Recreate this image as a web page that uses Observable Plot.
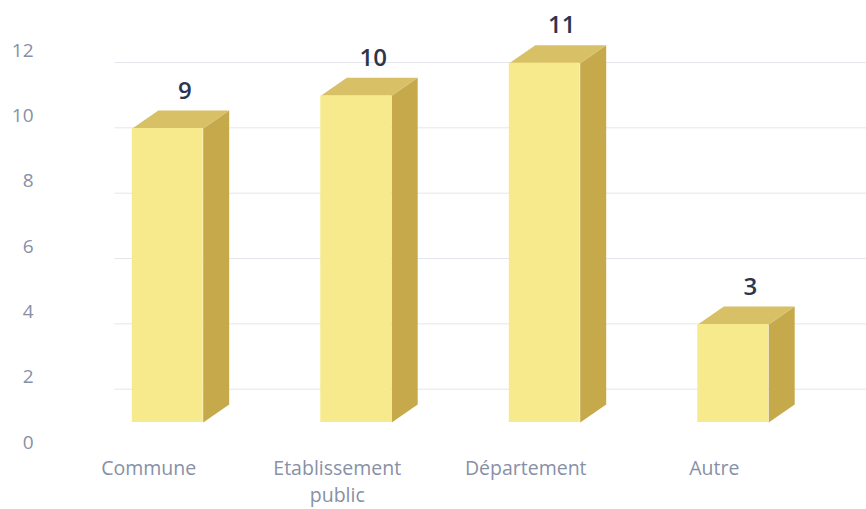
<!DOCTYPE html>
<html>
<head>
<meta charset="utf-8">
<script src="https://cdn.jsdelivr.net/npm/d3@7"></script>
<script src="https://cdn.jsdelivr.net/npm/@observablehq/plot@0.6"></script>
<style>
  body { margin: 0; background: #ffffff; }
  #chart { width: 866px; height: 509px; }
</style>
</head>
<body>
<div id="chart"></div>
<script>
// ---- data ----
const categories = ["Commune", "Etablissement public", "Département", "Autre"];
const values = [9, 10, 11, 3];
const xTickLabels = ["Commune", "Etablissement\npublic", "Département", "Autre"];
const yTicks = [0, 2, 4, 6, 8, 10, 12];

// ---- table built from the arrays ----
const data = categories.map((c, i) => ({ i, category: c, value: values[i] }));

// 3D geometry (in scale units)
const hw = 0.188;     // half width of front face
const depthX = 0.138; // depth shift to the right
const depthY = 0.55;  // depth shift upward
const lift = -20;     // front face sits slightly in front of the floor

const frontColor = "#f7ea8c";
const topColor = "#d8c066";
const sideColor = "#c5a94b";

const topFaces = data.flatMap(d => [
  { id: d.i, px: d.i - hw, py: d.value },
  { id: d.i, px: d.i + hw, py: d.value },
  { id: d.i, px: d.i + hw + depthX, py: d.value + depthY },
  { id: d.i, px: d.i - hw + depthX, py: d.value + depthY }
]);
const sideFaces = data.flatMap(d => [
  { id: d.i, px: d.i + hw, py: 0 },
  { id: d.i, px: d.i + hw + depthX, py: depthY },
  { id: d.i, px: d.i + hw + depthX, py: d.value + depthY },
  { id: d.i, px: d.i + hw, py: d.value }
]);

const chart = Plot.plot({
  width: 866,
  height: 509,
  marginLeft: 73,
  marginRight: 39,
  marginTop: 50,
  marginBottom: 67,
  style: { fontFamily: "'Open Sans', sans-serif", color: "#8790a6", background: "#ffffff" },
  x: { type: "linear", domain: [-0.5, 3.5] },
  y: { domain: [0, 12] },
  marks: [
    Plot.ruleY(yTicks.filter(t => t > 0), { x1: -0.28, x2: 3.71, dy: 12, stroke: "#e3e6eb", strokeWidth: 1 }),
    Plot.axisY({ ticks: yTicks, tickSize: 0, tickPadding: 40, fontSize: 19, fill: "#8790a6", label: null }),
    Plot.axisX({ ticks: [0, 1, 2, 3], tickFormat: i => xTickLabels[i], tickSize: 0, tickPadding: 14, dx: -19, fontSize: 19.5, lineHeight: 1.35, fill: "#8790a6", label: null }),
    Plot.line(sideFaces, { x: "px", y: "py", z: "id", fill: sideColor, stroke: "none", dy: lift }),
    Plot.line(topFaces, { x: "px", y: "py", z: "id", fill: topColor, stroke: "none", dy: lift }),
    Plot.rect(data, { x1: d => d.i - hw, x2: d => d.i + hw, y1: 0, y2: "value", fill: frontColor, dy: lift }),
    Plot.text(data, { x: "i", y: "value", text: d => String(d.value), dx: 17, dy: lift - 30, lineAnchor: "bottom", fontSize: 24, fontWeight: 600, fill: "#2b3550" })
  ]
});
document.getElementById("chart").appendChild(chart);
</script>
</body>
</html>
